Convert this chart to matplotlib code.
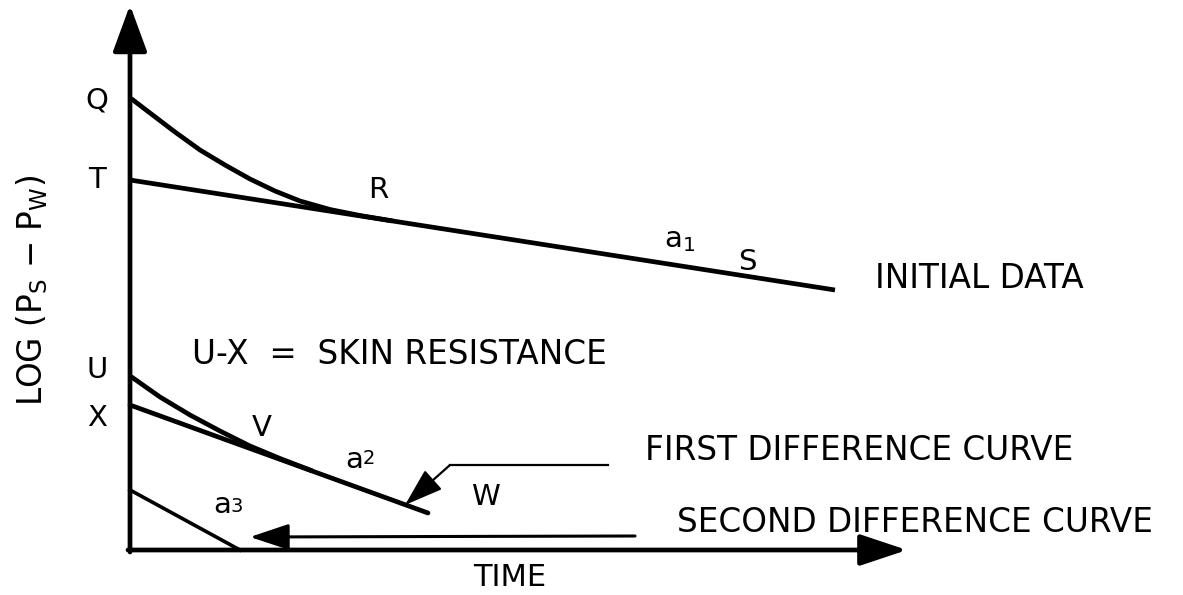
import matplotlib
matplotlib.use('Agg')
import matplotlib.pyplot as plt

plt.rcParams['font.family'] = ['DejaVu Sans']

# coordinates: time to the right of the origin, log(Ps-Pw) upward (arbitrary units)
# initial data: straight line T-S and early-time curve Q-R
line_ts_t = [0, 705]
line_ts_v = [370, 260]
curve_q_t = [3, 20, 45, 70, 95, 120, 145, 170, 200, 230, 260]
curve_q_v = [450, 437, 418, 400, 385, 371, 359, 349, 340.5, 334.5, 329.5]

# first difference: line X-W and curve U-V
line_xw_t = [0, 298]
line_xw_v = [145, 37]
curve_u_t = [3, 30, 60, 90, 120, 150, 180]
curve_u_v = [172, 153, 135, 119, 104, 91.5, 80]

# second difference line
line_sd_t = [0, 110]
line_sd_v = [60, 0]

point_labels = ['Q', 'T', 'U', 'X', 'R', 'S', 'V', 'W']
point_t = [-33, -33, -33, -33, 248, 617, 132, 355]
point_v = [450, 370, 180, 132, 360, 288, 122, 53]

fig = plt.figure(figsize=(11.83, 5.95), dpi=100)
ax = fig.add_axes([0, 0, 1, 1])
ax.set_xlim(-130, 1053)
ax.set_ylim(-45, 550)
ax.axis('off')

lw = 3.4
# axes with arrows
ax.annotate('', xy=(0, 545), xytext=(0, -2),
            arrowprops=dict(arrowstyle='-|>,head_length=0.6,head_width=0.22',
                            lw=lw, color='black', mutation_scale=48,
                            shrinkA=0, shrinkB=0))
ax.annotate('', xy=(777, 0), xytext=(-2, 0),
            arrowprops=dict(arrowstyle='-|>,head_length=0.6,head_width=0.2',
                            lw=lw, color='black', mutation_scale=48,
                            shrinkA=0, shrinkB=0))

ax.plot(line_ts_t, line_ts_v, color='black', lw=lw, solid_capstyle='butt')
ax.plot(curve_q_t, curve_q_v, color='black', lw=lw)
ax.plot(line_xw_t, line_xw_v, color='black', lw=lw, solid_capstyle='round')
ax.plot(curve_u_t, curve_u_v, color='black', lw=lw)
ax.plot(line_sd_t, line_sd_v, color='black', lw=2.6)

# pointer to first difference curve
ax.plot([478, 320], [85, 85], color='black', lw=1.6)
ax.annotate('', xy=(275, 45), xytext=(320, 85),
            arrowprops=dict(arrowstyle='-|>,head_length=0.6,head_width=0.2',
                            lw=1.6, color='black', mutation_scale=40,
                            shrinkA=0, shrinkB=0))
# pointer to second difference curve
ax.annotate('', xy=(120, 13), xytext=(505, 14),
            arrowprops=dict(arrowstyle='-|>,head_length=0.6,head_width=0.2',
                            lw=2.2, color='black', mutation_scale=40,
                            shrinkA=0, shrinkB=0))

fs = 21
for lab, t, v in zip(point_labels, point_t, point_v):
    ax.text(t, v, lab, fontsize=fs, ha='center', va='center')

ax.text(550, 310, r'a$_1$', fontsize=fs, ha='center', va='center')
ax.text(224, 90, 'a', fontsize=fs, ha='center', va='center')
ax.text(239, 91, '2', fontsize=14, ha='center', va='center')
ax.text(92, 45, 'a', fontsize=fs, ha='center', va='center')
ax.text(107, 43, '3', fontsize=14, ha='center', va='center')

big = 23.5
ax.text(745, 272, 'INITIAL DATA', fontsize=big, ha='left', va='center')
ax.text(62, 195, 'U-X  =  SKIN RESISTANCE', fontsize=big, ha='left', va='center')
ax.text(515, 100, 'FIRST DIFFERENCE CURVE', fontsize=big, ha='left', va='center')
ax.text(547, 28, 'SECOND DIFFERENCE CURVE', fontsize=big, ha='left', va='center')
ax.text(380, -28, 'TIME', fontsize=22, ha='center', va='center')
ax.text(-98, 260, r'LOG (P$_\mathrm{S}$ $-$ P$_\mathrm{W}$)', fontsize=big,
        ha='center', va='center', rotation=90)

fig.savefig('out.png', dpi=100)
